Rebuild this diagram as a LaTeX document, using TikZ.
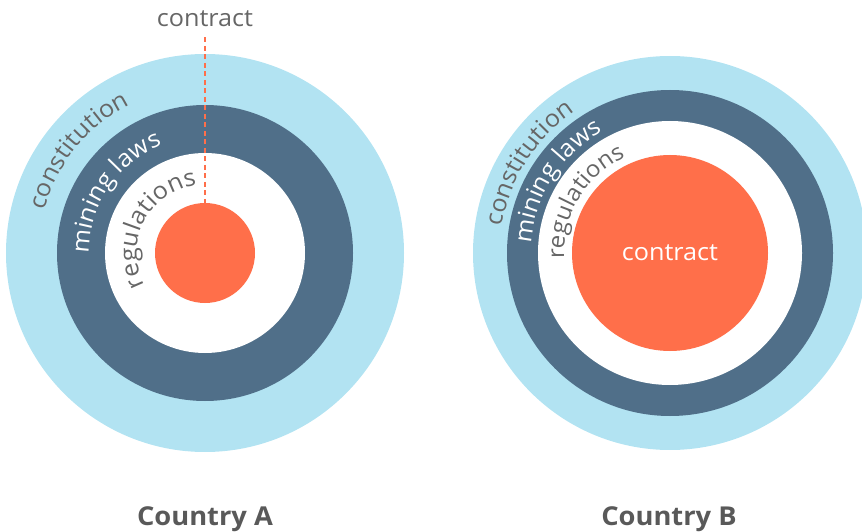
\documentclass[tikz,border=0pt]{standalone}
\usepackage{fontspec}
\setmainfont{Open Sans}[FakeStretch=1.05]
\usetikzlibrary{decorations.text}
\definecolor{lblue}{HTML}{B2E3F2}
\definecolor{dblue}{HTML}{506F89}
\definecolor{orng}{HTML}{FF6F4A}
\definecolor{tgrey}{HTML}{666666}
\definecolor{hgrey}{HTML}{595959}
\tikzset{
  disc/.style={circle, inner sep=0pt, minimum size=#1},
  lbl/.style={font=\fontsize{24}{28}\selectfont, text=tgrey, inner sep=0pt},
  title/.style={font=\fontsize{26}{30}\selectfont\bfseries, text=hgrey, inner sep=0pt},
  dashline/.style={draw=orng, line width=2pt, dash pattern=on 5pt off 3.5pt},
}
\begin{document}
\begin{tikzpicture}[x=1pt,y=1pt]
\useasboundingbox (0,0) rectangle (862,531);
\clip (0,0) rectangle (862,531);
% Country A
\coordinate (cA) at (205,278);
\node[disc=398pt, fill=lblue] (a1) at (cA) {};
\node[disc=296pt, fill=dblue] (a2) at (cA) {};
\node[disc=200pt, fill=white] (a3) at (cA) {};
\node[disc=100pt, fill=orng] (a4) at (cA) {};
\node[lbl, anchor=base] (ca) at (205,504) {contract};
\draw[dashline, shorten <=10pt] (ca.south) -- (a4.north);
\path[decorate, decoration={text along path, text align=center,
  text={|\fontsize{24}{28}\selectfont\color{tgrey}|constitution}}]
  (cA) ++(201:166) arc[start angle=201, end angle=81, radius=166];
\path[decorate, decoration={text along path, text align=center,
  text={|\fontsize{24}{28}\selectfont\color{white}|mining laws}}]
  (cA) ++(206:116) arc[start angle=206, end angle=86, radius=116];
\path[decorate, decoration={text along path, text align=center,
  text={|\fontsize{24}{28}\selectfont\color{tgrey}|regulations}}]
  (cA) ++(242.5:68) arc[start angle=242.5, end angle=62.5, radius=68];
\node[title, anchor=base] (tA) at (205,6) {Country A};
% Country B
\coordinate (cB) at (670,278);
\node[disc=394pt, fill=lblue] (b1) at (cB) {};
\node[disc=326pt, fill=dblue] (b2) at (cB) {};
\node[disc=264pt, fill=white] (b3) at (cB) {};
\node[disc=196pt, fill=orng, font=\fontsize{24}{28}\selectfont, text=white] (b4) at (cB) {contract};
\path[decorate, decoration={text along path, text align=center,
  text={|\fontsize{24}{28}\selectfont\color{tgrey}|constitution}}]
  (cB) ++(207.5:170) arc[start angle=207.5, end angle=87.5, radius=170];
\path[decorate, decoration={text along path, text align=center,
  text={|\fontsize{24}{28}\selectfont\color{white}|mining laws}}]
  (cB) ++(207.5:139) arc[start angle=207.5, end angle=87.5, radius=139];
\path[decorate, decoration={text along path, text align=center,
  text={|\fontsize{23}{27}\selectfont\color{tgrey}|regulations}}]
  (cB) ++(209:106) arc[start angle=209, end angle=89, radius=106];
\node[title, anchor=base] (tB) at (669,6) {Country B};
\end{tikzpicture}
\end{document}
